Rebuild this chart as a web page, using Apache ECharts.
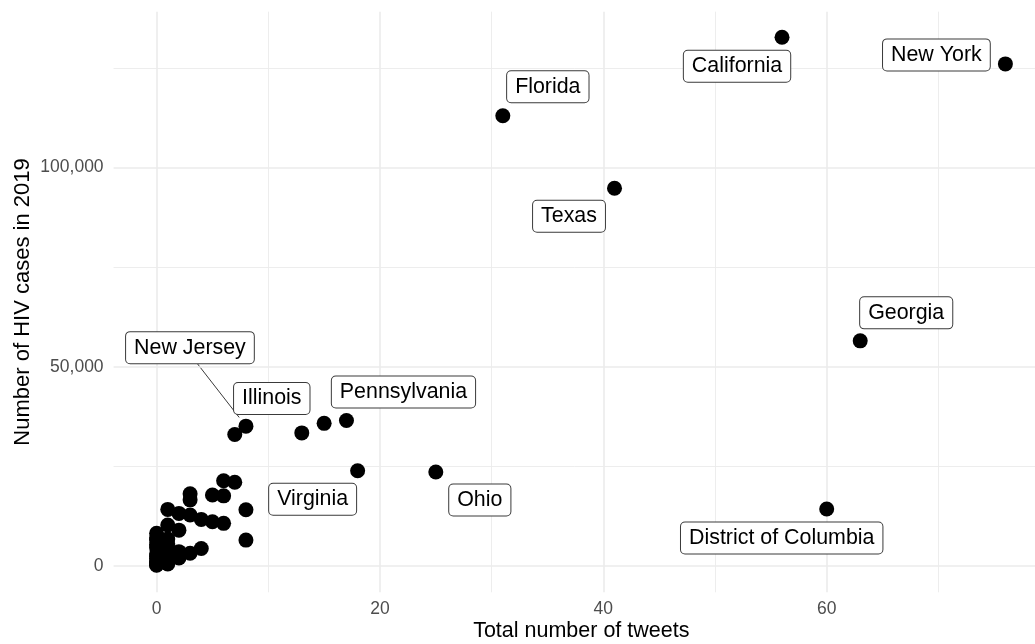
<!DOCTYPE html>
<html><head><meta charset="utf-8">
<script src="https://cdn.jsdelivr.net/npm/echarts@6/dist/echarts.min.js"></script>
<style>html,body{margin:0;padding:0;background:#fff}#c{width:1035px;height:644px}</style>
</head><body><div id="c"></div>
<script>
// ---- data ----
const states = ['California','New York','Florida','Texas','Georgia','District of Columbia','Ohio','Virginia','Pennsylvania','New Jersey','Illinois',
  '','', '','','','','','','','','','','','','','','','','','','','','','','','','','','','','','','','','','','',''];
const tweets = [56, 76, 31, 41, 63, 60, 25, 18, 17, 8, 7,
  15, 13,
  6, 7, 3, 3, 5, 6, 8, 8, 1, 2, 3, 4, 5, 6, 1, 2, 0, 0, 1, 4, 3, 2, 0, 0, 0, 0, 1, 1, 0, 1, 0, 1, 0, 2, 1, 0, 0, 0];
const hivCases = [132700, 126000, 113000, 94800, 56500, 14300, 23600, 23900, 36500, 35100, 33000,
  35800, 33400,
  21400, 21000, 18100, 16600, 17800, 17600, 14100, 6500, 14200, 13200, 12800, 11700, 11100, 10700, 10300, 9000, 8200, 6600, 6800, 4400, 3200, 3600, 4600, 3000, 1900, 300, 1100, 3700, 1200, 5500, 5400, 2400, 800, 2000, 500, 2500, 7000, 200];
const xTickLabels = [0, 20, 40, 60];
const yTickLabels = [0, 50000, 100000];
const xGridLines = [0, 10, 20, 30, 40, 50, 60, 70];
const yGridLines = [0, 25000, 50000, 75000, 100000, 125000];
const xTitle = 'Total number of tweets';
const yTitle = 'Number of HIV cases in 2019';

// label placement (pixel offsets of label centre from its point)
const labelOffsets = {
  'California': [-45, 29], 'New York': [-69, -9], 'Florida': [45, -29], 'Texas': [-45.5, 28],
  'Georgia': [46, -28], 'District of Columbia': [-45, 29], 'Ohio': [44, 28], 'Virginia': [-45, 28.5],
  'Pennsylvania': [57, -28.5], 'New Jersey': [-56, -78.5], 'Illinois': [37, -36]
};
const leaderLabel = 'New Jersey';

const font = "'Liberation Sans', Arial, Helvetica, sans-serif";
const chart = echarts.init(document.getElementById('c'), null, {renderer: 'canvas'});

const points = tweets.map((t, i) => {
  const name = states[i];
  const item = {name: name, value: [t, hivCases[i]]};
  if (name) item.label = {show: true};
  return item;
});

const gridLine = (major) => ({color: '#ebebeb', width: major ? 1.6 : 0.9, type: 'solid'});

chart.setOption({
  animation: false,
  backgroundColor: '#ffffff',
  textStyle: {fontFamily: font},
  grid: {left: 113.6, right: 0, top: 11.7, bottom: 51.7, containLabel: false, outerBoundsMode: 'none'},
  xAxis: {
    type: 'value', min: -3.85, max: 78.65,
    name: xTitle, nameLocation: 'middle', nameGap: 28, nameMoveOverlap: false,
    nameTextStyle: {fontSize: 21.5, color: '#000', fontFamily: font, padding: [0, 0, 0, 14]},
    axisLine: {show: false}, axisTick: {show: false}, splitLine: {show: false},
    axisLabel: {customValues: xTickLabels, fontSize: 17.5, color: '#4d4d4d', margin: 8, fontFamily: font}
  },
  yAxis: {
    type: 'value', min: -6600, max: 139100,
    name: yTitle, nameLocation: 'middle', nameGap: 80, nameMoveOverlap: false,
    nameTextStyle: {fontSize: 22, color: '#000', fontFamily: font},
    axisLine: {show: false}, axisTick: {show: false}, splitLine: {show: false},
    axisLabel: {customValues: yTickLabels, fontSize: 17.5, color: '#4d4d4d', margin: 10, fontFamily: font,
      formatter: v => v.toLocaleString('en-US')}
  },
  series: [
    {
      type: 'line', data: [], silent: true, z: 1,
      markLine: {
        silent: true, symbol: ['none', 'none'], label: {show: false}, animation: false,
        data: xGridLines.map(v => ({xAxis: v, lineStyle: gridLine(v % 20 === 0)}))
          .concat(yGridLines.map(v => ({yAxis: v, lineStyle: gridLine(v % 50000 === 0)})))
      }
    },
    {
      type: 'scatter', z: 5, symbol: 'circle', symbolSize: 15,
      itemStyle: {color: '#000', opacity: 1},
      data: points,
      label: {
        show: false, position: 'inside', formatter: p => p.name,
        fontSize: 21.4, color: '#000', fontFamily: font,
        backgroundColor: '#fff', borderColor: '#3a3a3a', borderWidth: 1, borderRadius: 4,
        padding: [5, 8, 4, 8], lineHeight: 22
      },
      labelLayout: function (params) {
        const o = labelOffsets[states[params.dataIndex]];
        return o ? {dx: o[0], dy: o[1]} : {};
      },
      emphasis: {disabled: true}
    }
  ]
});

// leader segment for the label that sits far from its point (ggrepel style)
(function () {
  const i = states.indexOf(leaderLabel);
  const p = chart.convertToPixel({seriesIndex: 1}, [tweets[i], hivCases[i]]);
  const o = labelOffsets[leaderLabel];
  const lx = p[0] + o[0] + 7, ly = p[1] + o[1] + 15.5;   // bottom edge of the label box
  const ddx = p[0] - lx, ddy = p[1] - ly, d = Math.sqrt(ddx * ddx + ddy * ddy);
  const ex = p[0] - ddx / d * 11, ey = p[1] - ddy / d * 11;
  chart.setOption({
    graphic: [{type: 'line', z: 4, silent: true,
      shape: {x1: lx, y1: ly, x2: ex, y2: ey},
      style: {stroke: '#3a3a3a', lineWidth: 1}}]
  });
})();
</script>
</body></html>
